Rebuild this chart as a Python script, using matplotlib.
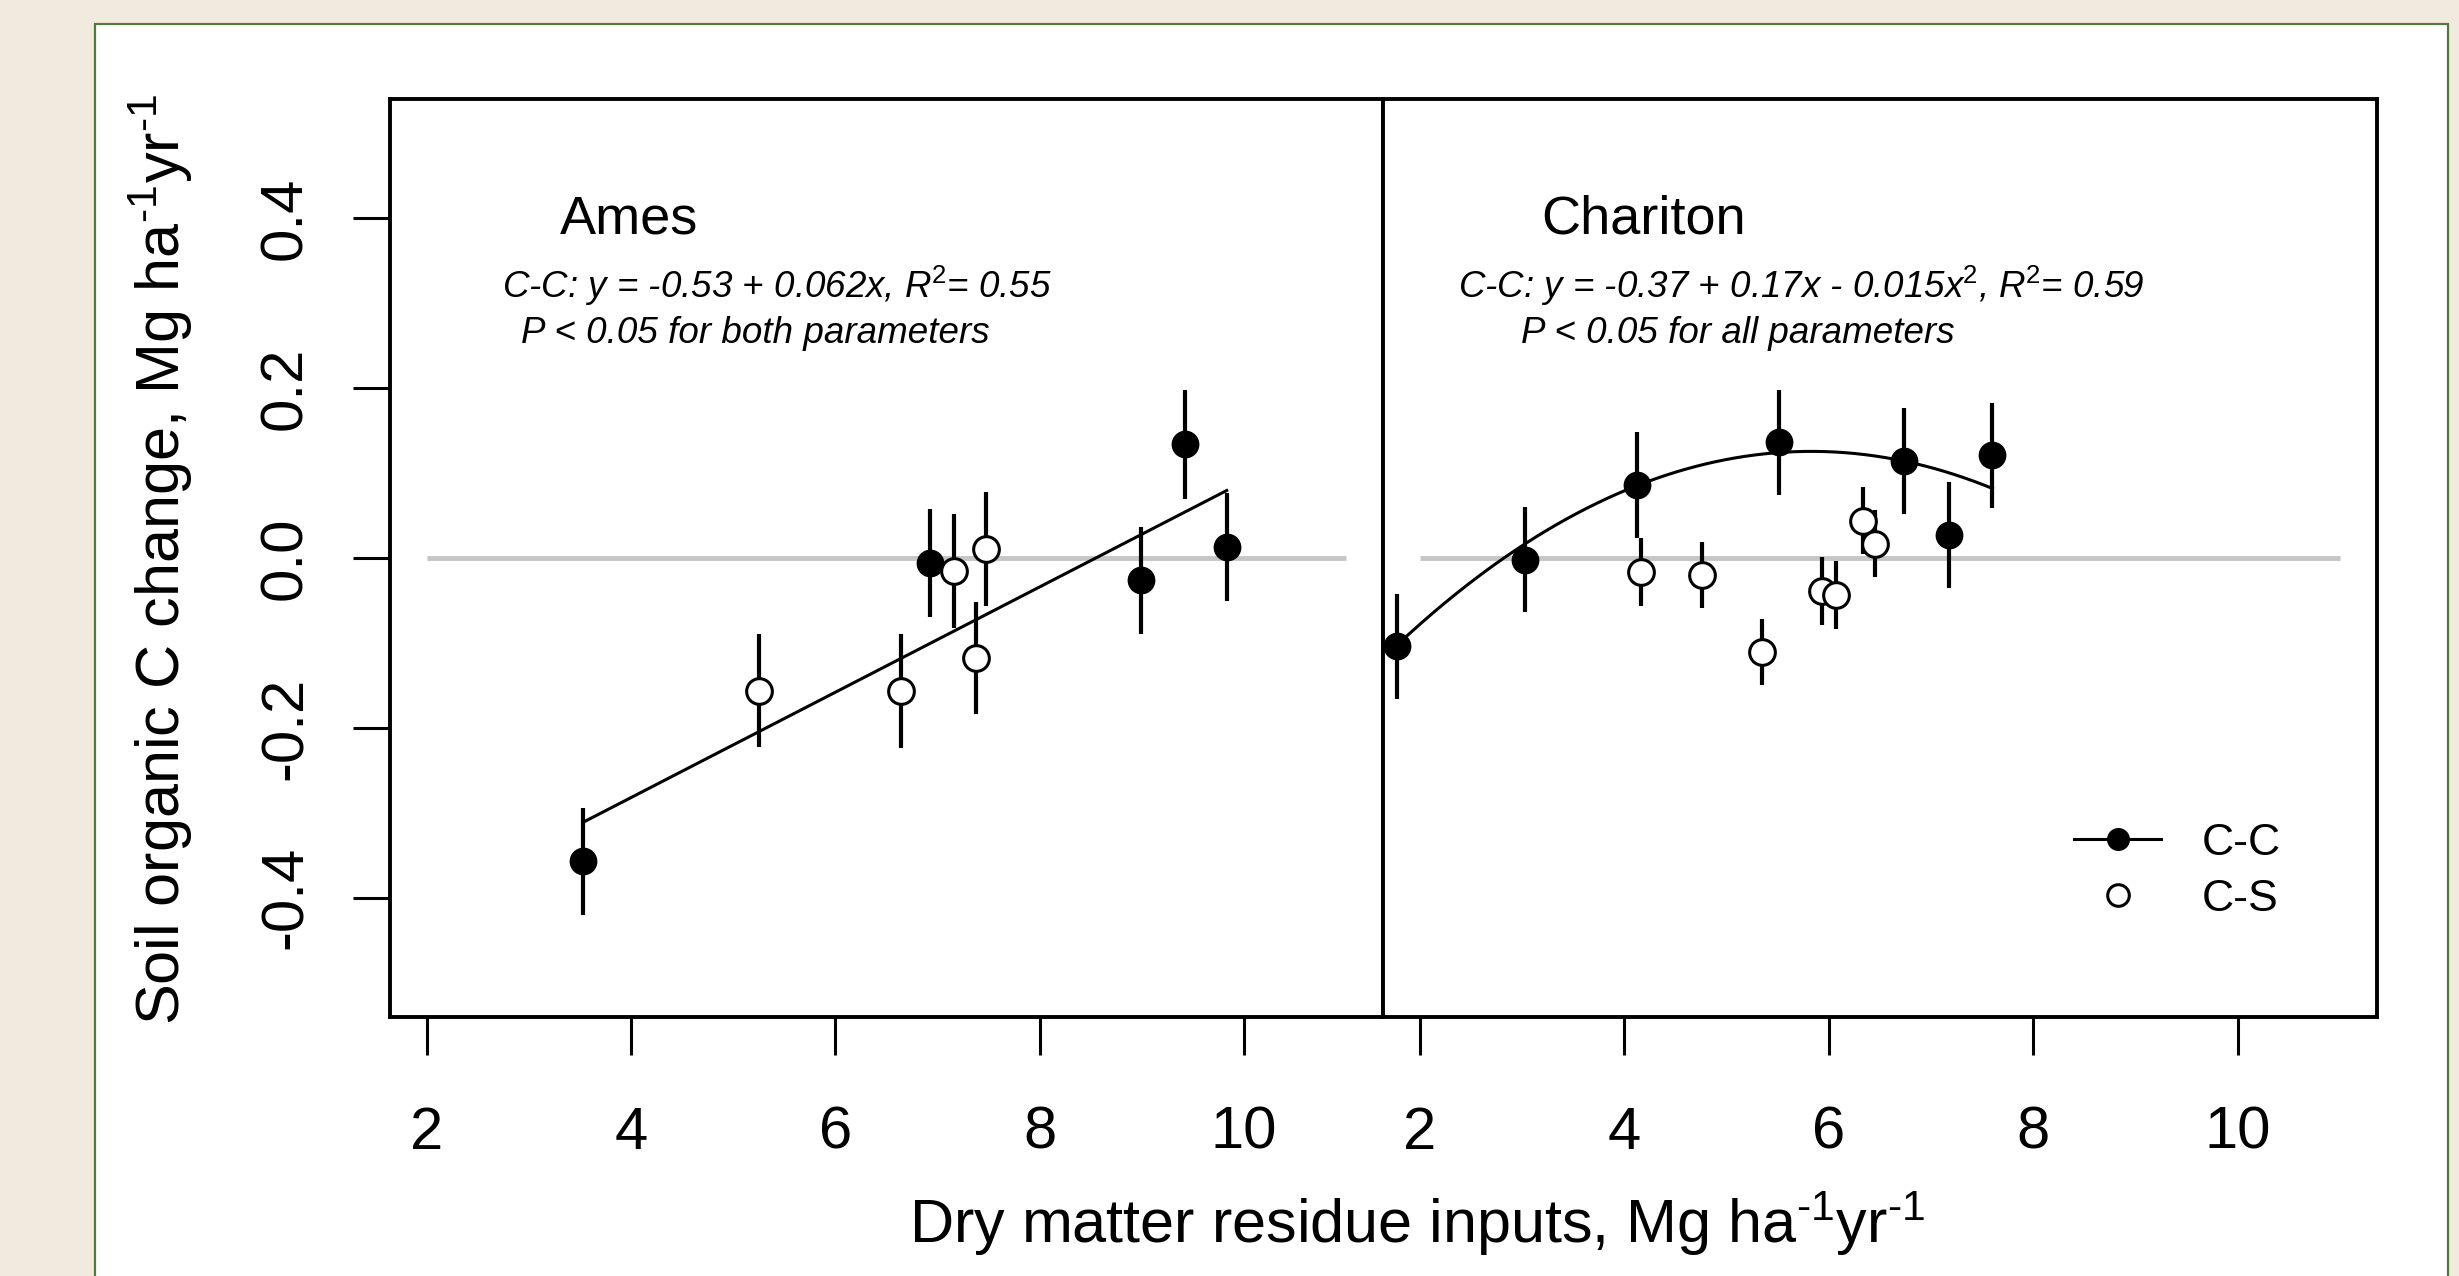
import numpy as np
import matplotlib
matplotlib.use('Agg')
import matplotlib.pyplot as plt
from matplotlib.lines import Line2D
from matplotlib.patches import Rectangle

plt.rcParams['font.family'] = ['Liberation Sans', 'DejaVu Sans']
plt.rcParams['mathtext.fontset'] = 'custom'
plt.rcParams['mathtext.rm'] = 'Liberation Sans'
plt.rcParams['mathtext.it'] = 'Liberation Sans:italic'
plt.rcParams['mathtext.bf'] = 'Liberation Sans:bold'
plt.rcParams['axes.unicode_minus'] = False

# ---------------- data ----------------
# Ames
ames_cc_x = [3.53, 6.93, 8.99, 9.42, 9.83]
ames_cc_y = [-0.357, -0.006, -0.026, 0.134, 0.013]
ames_cc_err = [0.063, 0.064, 0.063, 0.064, 0.064]
ames_cs_x = [5.25, 6.64, 7.16, 7.47, 7.38]
ames_cs_y = [-0.156, -0.157, -0.015, 0.011, -0.118]
ames_cs_err = [0.066, 0.067, 0.067, 0.067, 0.066]
ames_fit = [0.062, -0.53]          # slope, intercept

# Chariton
char_cc_x = [1.78, 3.03, 4.12, 5.51, 6.73, 7.17, 7.60]
char_cc_y = [-0.104, -0.002, 0.086, 0.136, 0.114, 0.027, 0.121]
char_cc_err = [0.062, 0.062, 0.062, 0.062, 0.062, 0.062, 0.062]
char_cs_x = [4.16, 4.76, 5.35, 5.93, 6.07, 6.33, 6.45]
char_cs_y = [-0.016, -0.020, -0.111, -0.039, -0.044, 0.044, 0.017]
char_cs_err = [0.040, 0.039, 0.039, 0.040, 0.040, 0.039, 0.039]
char_fit = [-0.0139, 0.162, -0.3465]  # quadratic as drawn

x_ticks = [2, 4, 6, 8, 10]
y_ticks = [-0.4, -0.2, 0.0, 0.2, 0.4]
y_ticklabels = ['-0.4', '-0.2', '0.0', '0.2', '0.4']
ref_x = [2, 11]

sites = ['Ames', 'Chariton']
equations = ['C-C: y = -0.53 + 0.062x, R$^{2}$= 0.55',
             'C-C: y = -0.37 + 0.17x - 0.015x$^{2}$, R$^{2}$= 0.59']
pvals = ['P < 0.05 for both parameters', 'P < 0.05 for all parameters']
series_labels = ['C-C', 'C-S']
xlabel = r'Dry matter residue inputs, Mg ha$^{\text{-}1}$yr$^{\text{-}1}$'
ylabel = r'Soil organic C change, Mg ha$^{\text{-}1}$yr$^{\text{-}1}$'

# ---------------- figure ----------------
W, H = 2459, 1276
fig = plt.figure(figsize=(W / 100, H / 100), dpi=100)
fig.patch.set_facecolor('#F1EADF')
panel = Rectangle((95 / W, -0.05), (2448 - 95) / W, 1.05 - 24 / H,
                  transform=fig.transFigure, facecolor='white',
                  edgecolor='#4E7A3A', linewidth=1.6, zorder=-5)
fig.patches.append(panel)

bot = 1 - 1016.7 / H
hgt = (1016.7 - 99.3) / H
ax_l = fig.add_axes([390 / W, bot, 993 / W, hgt])
ax_r = fig.add_axes([1383 / W, bot, 994 / W, hgt])

MS = 18.5
for ax in (ax_l, ax_r):
    ax.set_xlim(1.64, 11.36)
    ax.set_ylim(-0.54, 0.54)
    for s in ax.spines.values():
        s.set_linewidth(2.8)
    ax.set_xticks(x_ticks)
    ax.tick_params(axis='x', direction='out', length=27, width=2.2,
                   labelsize=43, pad=37)
    ax.hlines(0, ref_x[0], ref_x[1], color='#C6C6C6', lw=3.5, zorder=1)

ax_l.set_yticks(y_ticks)
ax_l.set_yticklabels(y_ticklabels)
ax_l.tick_params(axis='y', direction='out', length=27, width=2.2,
                 labelsize=43, pad=28)
for lbl in ax_l.get_yticklabels():
    lbl.set_rotation(90)
    lbl.set_va('center')
ax_r.tick_params(axis='y', left=False, labelleft=False)


def draw(ax, cx, cy, ce, sx, sy, se, coef):
    xs = np.linspace(min(cx), max(cx), 300)
    ax.plot(xs, np.polyval(coef, xs), color='black', lw=2.2, zorder=2.5)
    ax.errorbar(cx, cy, yerr=ce, fmt='none', ecolor='black', elinewidth=3,
                capsize=0, zorder=2)
    ax.errorbar(sx, sy, yerr=se, fmt='none', ecolor='black', elinewidth=3,
                capsize=0, zorder=2)
    ax.plot(cx, cy, 'o', ms=MS, mfc='black', mec='black', mew=1.5, zorder=3)
    ax.plot(sx, sy, 'o', ms=MS, mfc='white', mec='black', mew=2.2, zorder=3)


draw(ax_l, ames_cc_x, ames_cc_y, ames_cc_err, ames_cs_x, ames_cs_y, ames_cs_err, ames_fit)
draw(ax_r, char_cc_x, char_cc_y, char_cc_err, char_cs_x, char_cs_y, char_cs_err, char_fit)

# annotations
EQ = 26.5
ax_l.text(3.30, 0.382, sites[0], fontsize=39, va='baseline', ha='left')
ax_l.text(2.737, 0.306, equations[0], fontsize=EQ, style='italic', va='baseline')
ax_l.text(2.92, 0.253, pvals[0], fontsize=EQ, style='italic', va='baseline')
ax_r.text(3.19, 0.382, sites[1], fontsize=39, va='baseline', ha='left')
ax_r.text(2.376, 0.306, equations[1], fontsize=EQ, style='italic', va='baseline')
ax_r.text(2.993, 0.253, pvals[1], fontsize=EQ, style='italic', va='baseline')

# legend
h1 = Line2D([], [], color='black', lw=2.2, marker='o', ms=MS, mfc='black', mec='black')
h2 = Line2D([], [], linestyle='none', marker='o', ms=MS, mfc='white', mec='black', mew=2.2)
ax_r.legend([h1, h2], series_labels, loc='center left', bbox_to_anchor=(0.6955, 0.1584),
            frameon=False, fontsize=32, handlelength=1.95, handletextpad=0.92,
            labelspacing=0.33, borderpad=0, borderaxespad=0, markerscale=0.84)

fig.text(1417 / W, 1 - 1243 / H, xlabel, fontsize=44, ha='center', va='baseline')
fig.text(180 / W, 1 - 559.5 / H, ylabel, fontsize=44, rotation=90,
         rotation_mode='anchor', ha='center', va='baseline')

fig.savefig('out.png', dpi=100, facecolor=fig.get_facecolor())
